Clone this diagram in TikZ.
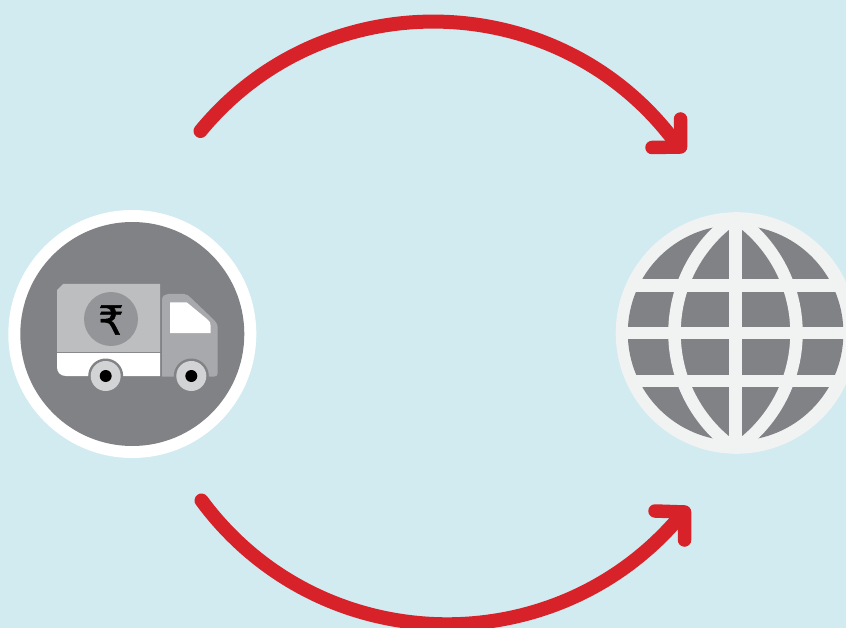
\documentclass[tikz,border=0pt]{standalone}
\usepackage{fontspec}
\newfontfamily\rupeefont[FakeBold=1.2]{DejaVu Sans}
\definecolor{bgblue}{HTML}{D1EBF0}
\definecolor{arrowred}{HTML}{D7222A}
\definecolor{darkgrey}{HTML}{808285}
\definecolor{ringwhite}{HTML}{F1F2F2}
\definecolor{cargo}{HTML}{BCBEC0}
\definecolor{coin}{HTML}{939598}
\definecolor{cab}{HTML}{A7A9AC}
\definecolor{tyre}{HTML}{D1D3D4}
\tikzset{
  arc line/.style={draw=arrowred,line width=14pt,line cap=round,line join=round},
  head line/.style={draw=arrowred,line width=13.5pt,line cap=round,line join=round},
  grid bar/.style={draw=ringwhite,line width=12.5pt},
  disc/.style={circle,inner sep=0pt,minimum size=#1},
}
\begin{document}
\begin{tikzpicture}[x=1pt,y=-1pt]
\path[use as bounding box] (0,0) rectangle (846,628);
\clip (0,0) rectangle (846,628);
\fill[bgblue] (0,0) rectangle (846,628);

% truck badge
\node[disc=248pt,fill=white] (badge) at (132.3,334) {};
\node[disc=224pt,fill=darkgrey] (badgein) at (132.3,334) {};
\fill[cargo] (57,352) -- (57,290) -- (63,284) -- (160,284) -- (160,352) -- cycle;
\fill[white] (57,353) -- (160,353) -- (160,376) -- (66,376) .. controls (60,376) and (57,372) .. (57,367) -- cycle;
\node[disc=54pt,fill=coin] (coin) at (111,319) {};
\node[inner sep=0pt,text=black] (rupee) at (111,320) {\fontsize{40}{40}\selectfont\rupeefont ₹};
\fill[cab] (162,376.5) -- (162,300) .. controls (162,296) and (165,294) .. (168,294) -- (184,294)
  .. controls (187,294) and (189,296) .. (191,298) -- (213,319) .. controls (216,322) and (217.7,324) .. (217.7,328)
  -- (217.7,373) .. controls (217.7,376) and (216,376.5) .. (214,376.5) -- cycle;
\fill[white] (170,302.3) -- (186.7,302.3) -- (207,319) .. controls (210,322) and (210.7,323) .. (210.7,326) -- (210.7,333) -- (170,333) -- cycle;
\foreach \n/\cx in {a/105.7,b/191.3}{
  \node[disc=35pt,fill=darkgrey] (rim\n) at (\cx,376) {};
  \node[disc=30pt,fill=tyre] (tyre\n) at (\cx,376) {};
  \node[disc=12pt,fill=black] (hub\n) at (\cx,376) {};
}

% globe
\node[disc=241.6pt,fill=ringwhite] (globe) at (736.5,333) {};
\node[disc=215.6pt,fill=darkgrey] (globein) at (735.6,333) {};
\begin{scope}
\clip (736.5,333) circle[radius=120];
\draw[grid bar] (735.5,212) -- (735.5,454);
\draw[grid bar] (614,285.5) -- (857,285.5);
\draw[grid bar] (614,333) -- (857,333);
\draw[grid bar] (614,381) -- (857,381);
\draw[grid bar] (655.5,333) circle[radius=141];
\draw[grid bar] (815.5,333) circle[radius=141];
\end{scope}

% arrows
\coordinate (topstart) at (200.5,131);
\coordinate (topend) at (678,146);
\coordinate (topc) at (680.5,147);
\coordinate (topa) at (680.5,119);
\coordinate (topb) at (652,147.5);
\draw[arc line] (topstart) .. controls (325.3,-20.7) and (562.5,-13.7) .. (topend);
\draw[head line] (topa) -- (topc) -- (topb);

\coordinate (botstart) at (201.5,500.5);
\coordinate (botend) at (682,514);
\coordinate (botc) at (684.5,512);
\coordinate (bota) at (655,511);
\coordinate (botb) at (684.5,540);
\draw[arc line] (botstart) .. controls (319.4,660) and (556,666.3) .. (botend);
\draw[head line] (bota) -- (botc) -- (botb);
\end{tikzpicture}
\end{document}
